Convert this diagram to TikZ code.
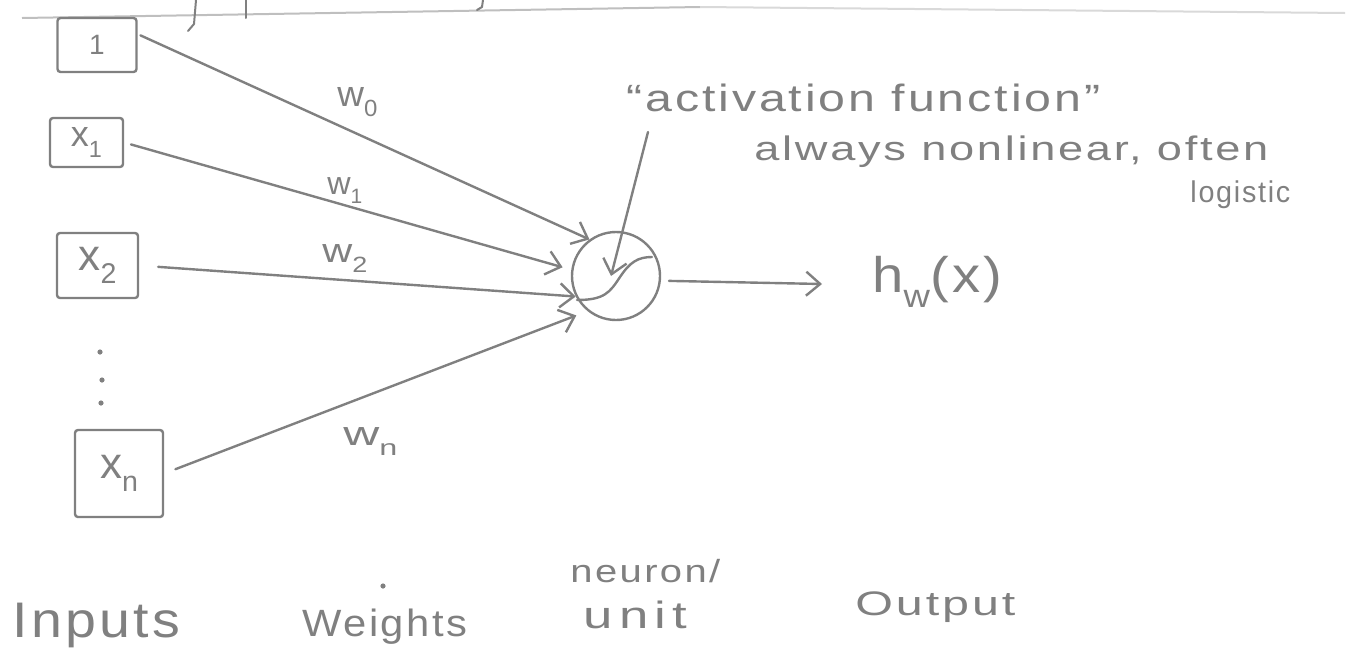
\documentclass[tikz,border=0pt]{standalone}
\usepackage{fontspec}
\setmainfont{Liberation Sans}
\usepackage{graphicx}
\usetikzlibrary{arrows.meta}
\definecolor{ink}{gray}{0.5}
\newcommand\fitw[2]{\resizebox{#1}{\height}{#2}}
\newcommand\lowsub[1]{\raisebox{-0.3em}{\scalebox{0.65}{#1}}}
\newcommand\fsz[1]{\fontsize{#1}{#1}\selectfont\addfontfeature{LetterSpace=6}}
\begin{document}
\begin{tikzpicture}[x=0.5pt,y=-0.5pt,
  inkline/.style={draw=ink, line width=1.2pt, line cap=round, line join=round},
  arr/.style={inkline, -{Straight Barb[length=7pt,width=12pt]}},
  inbox/.style={draw=ink, line width=1.2pt, inner sep=0pt, rounded corners=1.5pt, text=ink},
  lbl/.style={inner sep=0pt, anchor=base west, text=ink},
]
\useasboundingbox (0,0) rectangle (1353,654);

% cut-off strokes at the top edge
\draw[gray!50, line width=1pt] (22,18) -- (700,7);
\draw[gray!30, line width=1pt] (700,7) -- (1345,13);
\draw[inkline, line width=1pt] (196,0) -- (194,24) -- (188,31);
\draw[inkline, line width=1pt] (246,0) -- (246,18);
\draw[inkline, line width=1pt] (483,0) -- (482,7) -- (477,10);

% input boxes
\node[inbox, minimum width=39.5pt, minimum height=27pt] (b0) at (97,45) {\fsz{14}1};
\node[inbox, minimum width=36.5pt, minimum height=24.5pt] (b1) at (86.5,142.5) {\fsz{18}x\lowsub{1}};
\node[inbox, minimum width=40.5pt, minimum height=32.5pt] (b2) at (97.5,265.5) {\fsz{22}x\lowsub{2}};
\node[inbox, minimum width=44pt, minimum height=43.5pt] (bn) at (119,473.5) {\fsz{22}x\lowsub{n}};

% vertical dots
\fill[ink] (100,352) circle (1.3pt);
\fill[ink] (102,380) circle (1.3pt);
\fill[ink] (101,403) circle (1.3pt);

% neuron
\node[draw=ink, line width=1.2pt, circle, minimum size=44pt, inner sep=0pt] (neuron) at (616,276) {};
\draw[inkline] (577,300) .. controls (605,300) and (610,292) .. (620,277)
               .. controls (630,262) and (638,257) .. (652,257);

% weighted connections
\draw[arr, shorten <=1.5pt] (b0.15) -- (neuron.126);
\draw[arr, shorten <=3.5pt, shorten >=4.5pt] (b1.east) -- (neuron.172);
\draw[arr, shorten <=9.5pt] (b2.east) -- (neuron.207);
\draw[arr, shorten <=6pt, shorten >=6pt] (bn.east) -- (neuron.231);

% weight labels
\node[lbl] (w0) at (337,106) {\fitw{20pt}{\fsz{18}w\lowsub{0}}};
\node[lbl] (w1) at (327,194) {\fitw{17.5pt}{\fsz{16}w\lowsub{1}}};
\node[lbl] (w2) at (322,262) {\fitw{22.5pt}{\fsz{17}w\lowsub{2}}};
\node[lbl] (wn) at (343,445) {\fitw{27pt}{\fsz{17}w\lowsub{n}}};

% output
\coordinate (otip) at (822,284);
\draw[arr, shorten <=4pt] (neuron.-6) -- (otip);
\node[lbl] (hw) at (872,292) {\fitw{65pt}{\fsz{25}h\lowsub{w}(x)}};

% activation function annotation
\node[lbl] (act) at (626,111) {\fitw{237pt}{\fsz{19}“activation function”}};
\node[lbl] (alw) at (754,160) {\fitw{257pt}{\fsz{17}always nonlinear, often}};
\node[lbl] (logi) at (1190,202) {\fitw{50pt}{\fsz{15}logistic}};
\coordinate (a0) at (648,132);
\coordinate (a1) at (611,276);
\draw[arr] (a0) -- (a1);

% bottom captions
\node[lbl] (inp) at (12,637) {\fitw{84pt}{\fsz{25}Inputs}};
\fill[ink] (383,586) circle (1.3pt);
\node[lbl] (wts) at (302,636) {\fitw{82.5pt}{\fsz{19}Weights}};
\node[lbl] (neu) at (570,582) {\fitw{75pt}{\fsz{16}neuron/}};
\node[lbl] (unit) at (583,628) {\fitw{52pt}{\fsz{19}\addfontfeature{LetterSpace=12}unit}};
\node[lbl] (outp) at (855,615) {\fitw{80pt}{\fsz{17}Output}};
\end{tikzpicture}
\end{document}
